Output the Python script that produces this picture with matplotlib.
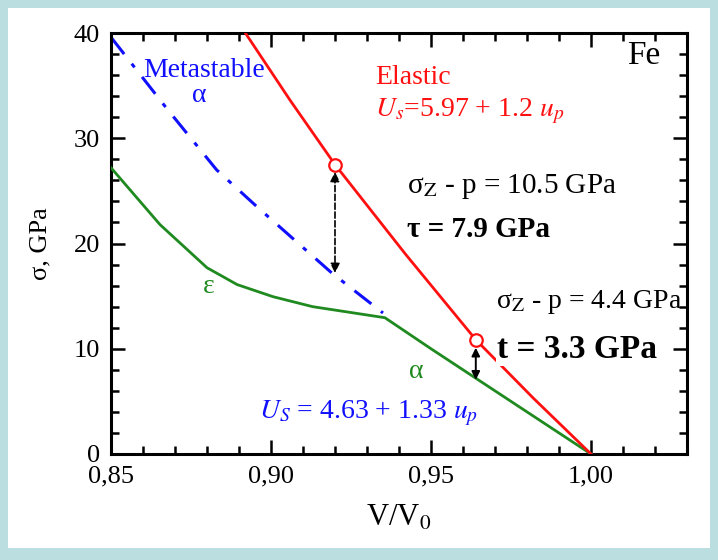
import numpy as np
import matplotlib
matplotlib.use('Agg')
import matplotlib.pyplot as plt
from matplotlib.patches import Rectangle

plt.rcParams['font.family'] = ['Liberation Serif', 'DejaVu Serif']
plt.rcParams['mathtext.fontset'] = 'stix'

# elastic branch (red)
v_el = [0.892, 0.906, 0.92, 0.942, 0.964, 0.982, 1.00]
s_el = [40.0, 33.6, 27.5, 19.0, 10.86, 5.3, 0.0]
# marked points on elastic branch
v_mark = [0.92, 0.964]
s_mark = [27.5, 10.86]
# metastable alpha (blue dash-dot)
v_meta = [0.85, 0.8675, 0.883, 0.8956, 0.919, 0.935]
s_meta = [39.6, 32.8, 27.0, 23.5, 17.2, 13.4]
# plastic branch alpha/epsilon (green)
v_pl = [0.85, 0.8653, 0.88, 0.8894, 0.9006, 0.913, 0.9356, 0.95, 0.965, 0.98, 1.00]
s_pl = [27.2, 21.8, 17.7, 16.1, 14.95, 14.0, 12.95, 10.0, 7.0, 4.0, 0.0]

xticks = [0.85, 0.90, 0.95, 1.00]
xticklabels = ['0,85', '0,90', '0,95', '1,00']
yticks = [0, 10, 20, 30, 40]

red = '#ff1010'
blue = '#1010ff'
green = '#1f8a1f'

fig = plt.figure(figsize=(7.18, 5.6), dpi=100)
fig.patch.set_facecolor('#bbdfe1')
fig.patches.append(Rectangle((0.0111, 0.0214), 0.9777, 0.9643, transform=fig.transFigure,
                             facecolor='white', edgecolor='none', zorder=-5))
ax = fig.add_axes([0.1546, 0.1893, 0.8022, 0.7517])

ax.plot(v_meta, s_meta, color=blue, lw=2.2, ls=(0, (7, 4, 1.5, 4)), zorder=2)
ax.plot(v_pl, s_pl, color=green, lw=2.0, zorder=3)
ax.plot(v_el, s_el, color=red, lw=2.0, zorder=3)
ax.plot(v_mark, s_mark, 'o', ms=9, mfc='white', mec=red, mew=1.6, zorder=4)

# arrows
ax.annotate('', xy=(0.92, 26.8), xytext=(0.92, 17.2),
            arrowprops=dict(arrowstyle='<|-|>', color='black', lw=1.2, ls='--',
                            mutation_scale=14, shrinkA=0, shrinkB=0))
ax.annotate('', xy=(0.964, 10.1), xytext=(0.964, 7.05),
            arrowprops=dict(arrowstyle='<|-|>', color='black', lw=1.4,
                            mutation_scale=12, shrinkA=0, shrinkB=0))

# texts
ax.text(0.86, 36.4, 'Metastable', color=blue, fontsize=20, va='center', ha='left')
ax.text(0.8775, 34.1, 'α', color=blue, fontsize=20, va='center', ha='center')
ax.text(0.9326, 35.8, 'Elastic', color=red, fontsize=20, va='center', ha='left')
ax.text(0.9326, 32.6, r'$U_s$=5.97 + 1.2 $u_p$', color=red, fontsize=20, va='center', ha='left')
ax.text(1.0216, 37.8, 'Fe', color='black', fontsize=24, va='center', ha='right')
ax.text(0.9426, 25.4, r'σ$_\mathrm{Z}$ - p = 10.5 GPa', color='black', fontsize=21,
        va='center', ha='left')
ax.text(0.9426, 21.3, 'τ = 7.9 GPa', color='black', fontsize=21, fontweight='bold',
        va='center', ha='left')
ax.text(0.9702, 14.4, r'σ$_\mathrm{Z}$ - p = 4.4 GPa', color='black', fontsize=20,
        va='center', ha='left')
ax.text(0.9705, 9.9, 't = 3.3 GPa', color='black', fontsize=24, fontweight='bold',
        va='center', ha='left', bbox=dict(facecolor='white', edgecolor='none', pad=0.5))
ax.text(0.8806, 15.9, 'ε', color=green, fontsize=20, va='center', ha='center')
ax.text(0.9453, 7.8, 'α', color=green, fontsize=20, va='center', ha='center')
ax.text(0.8963, 3.9, r'$U_S$ = 4.63 + 1.33 $u_p$', color=blue, fontsize=20, va='center', ha='left')

ax.set_xlim(0.85, 1.03)
ax.set_ylim(0, 40)
ax.set_xticks(xticks)
ax.set_xticklabels(xticklabels)
ax.set_yticks(yticks)
ax.set_xticks(np.arange(0.85, 1.031, 0.01), minor=True)
ax.set_yticks(np.arange(0, 41, 2), minor=True)
ax.tick_params(which='both', direction='in', top=True, right=True, width=1.8,
               labelsize=19, pad=8)
ax.tick_params(which='major', length=10)
ax.tick_params(which='minor', length=6)
for sp in ax.spines.values():
    sp.set_linewidth(2.2)

ax.set_xlabel(r'V/V$_0$', fontsize=22, labelpad=12)
ax.set_ylabel('σ, GPa', fontsize=19, labelpad=16)

fig.savefig('out.png', dpi=100, facecolor=fig.get_facecolor())
